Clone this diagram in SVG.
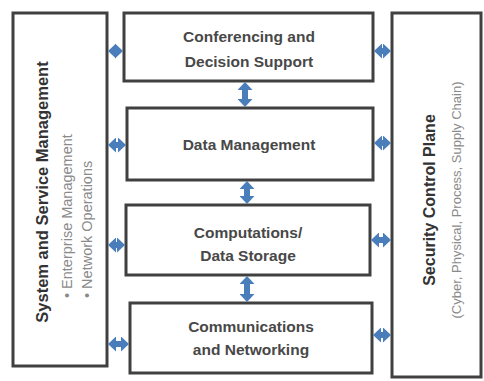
<svg xmlns="http://www.w3.org/2000/svg" width="484" height="381" viewBox="0 0 484 381">
<style>
.box{fill:#fff;stroke:#404040;stroke-width:3}
.lbl{font-family:"Liberation Sans",Arial,sans-serif;font-size:15.5px;font-weight:bold;fill:#484848;text-anchor:middle}
.ttl{font-family:"Liberation Sans",Arial,sans-serif;font-weight:bold;fill:#333;text-anchor:middle}
.sub{font-family:"Liberation Sans",Arial,sans-serif;fill:#8a8a8a}
.arr{stroke:#4a7ebb;stroke-width:6;fill:none;marker-start:url(#ah);marker-end:url(#ah)}
</style>
<defs>
<marker id="ah" markerUnits="userSpaceOnUse" markerWidth="8" markerHeight="15" refX="3" refY="7.5" orient="auto-start-reverse">
<path d="M0,0 L8,7.5 L0,15 z" fill="#4a7ebb"/>
</marker>
</defs>
<rect width="484" height="381" fill="#fff"/>
<g id="left">
<rect class="box" x="13" y="13" width="94" height="353"/>
<text class="ttl" font-size="16.5" transform="translate(48,192) rotate(-90)">System and Service Management</text>
<text class="sub" font-size="14.5" transform="translate(72,298) rotate(-90)">•  Enterprise Management</text>
<text class="sub" font-size="14.5" transform="translate(92,298) rotate(-90)">•  Network Operations</text>
</g>
<g id="right">
<rect class="box" x="392" y="13" width="89" height="364"/>
<text class="ttl" font-size="16" transform="translate(435,200) rotate(-90)">Security Control Plane</text>
<text class="sub" font-size="13" text-anchor="middle" transform="translate(461,200) rotate(-90)">(Cyber, Physical, Process, Supply Chain)</text>
</g>
<g id="n1">
<rect class="box" x="124" y="13" width="249" height="68"/>
<text class="lbl" x="249" y="42">Conferencing and</text>
<text class="lbl" x="249" y="67">Decision Support</text>
</g>
<g id="n2">
<rect class="box" x="127" y="108" width="246" height="72"/>
<text class="lbl" x="249" y="150">Data Management</text>
</g>
<g id="n3">
<rect class="box" x="126" y="205" width="244" height="70"/>
<text class="lbl" x="248" y="238">Computations/</text>
<text class="lbl" x="248" y="261">Data Storage</text>
</g>
<g id="n4">
<rect class="box" x="130" y="303" width="242" height="70"/>
<text class="lbl" x="251" y="332">Communications</text>
<text class="lbl" x="251" y="355">and Networking</text>
</g>
<g id="connectors">
<line class="arr" x1="113" y1="51" x2="118" y2="51"/>
<line class="arr" x1="113" y1="145" x2="121" y2="145"/>
<line class="arr" x1="113" y1="245" x2="120" y2="245"/>
<line class="arr" x1="113" y1="344" x2="124" y2="344"/>
<line class="arr" x1="379" y1="51" x2="386" y2="51"/>
<line class="arr" x1="379" y1="143" x2="386" y2="143"/>
<line class="arr" x1="376" y1="240" x2="386" y2="240"/>
<line class="arr" x1="378" y1="335" x2="386" y2="335"/>
<line class="arr" x1="245" y1="87" x2="245" y2="102"/>
<line class="arr" x1="247" y1="186" x2="247" y2="199"/>
<line class="arr" x1="247" y1="281" x2="247" y2="297"/>
</g>
</svg>
